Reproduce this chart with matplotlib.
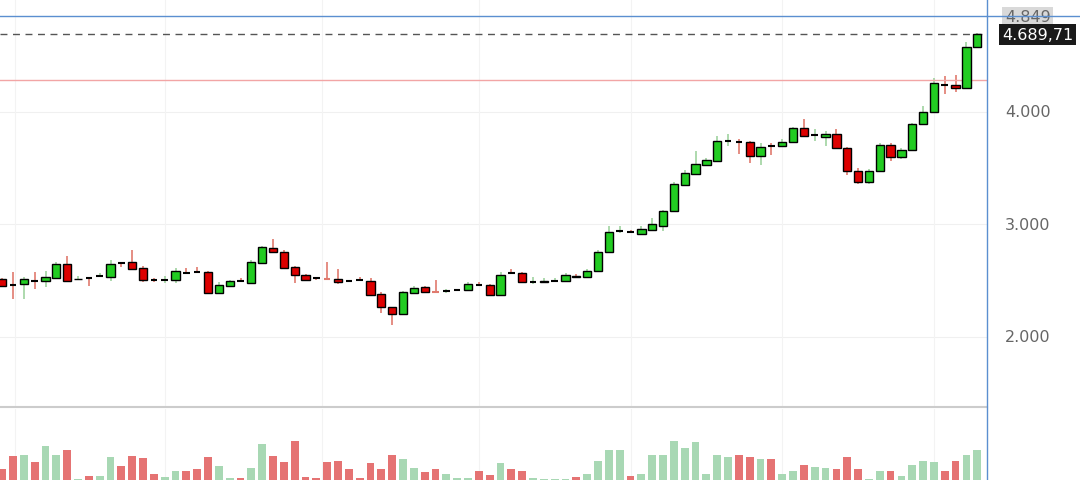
import matplotlib.pyplot as plt
from matplotlib.patches import Rectangle

# OHLC
opens = [2515, 2465, 2470, 2500, 2500, 2525, 2650, 2512, 2525, 2540, 2530, 2660, 2667, 2613, 2510, 2505, 2507, 2572, 2580, 2578,
         2390, 2455, 2500, 2480, 2658, 2790, 2755, 2622, 2551, 2525, 2515, 2515, 2500, 2505, 2498, 2382, 2266, 2204, 2390, 2440,
         2402, 2407, 2416, 2418, 2464, 2460, 2373, 2571, 2569, 2488, 2490, 2496, 2498, 2545, 2533, 2587, 2755, 2940, 2935, 2915,
         2950, 2987, 3120, 3351, 3449, 3529, 3564, 3740, 3735, 3733, 3609, 3700, 3698, 3733, 3858, 3794, 3778, 3804, 3680, 3476,
         3378, 3476, 3707, 3600, 3662, 3893, 4000, 4243, 4240, 4213, 4578]
closes = [2455, 2460, 2515, 2495, 2535, 2650, 2500, 2518, 2522, 2545, 2650, 2655, 2605, 2507, 2505, 2510, 2587, 2567, 2576, 2390,
          2460, 2500, 2496, 2667, 2800, 2755, 2613, 2551, 2507, 2522, 2513, 2489, 2496, 2502, 2373, 2266, 2204, 2400, 2436, 2395,
          2400, 2410, 2420, 2470, 2460, 2373, 2551, 2567, 2489, 2493, 2500, 2500, 2551, 2535, 2587, 2755, 2933, 2944, 2931, 2960,
          3000, 3120, 3360, 3458, 3538, 3573, 3742, 3744, 3731, 3609, 3689, 3697, 3733, 3858, 3787, 3798, 3804, 3680, 3476, 3378,
          3476, 3707, 3600, 3662, 3893, 4000, 4258, 4238, 4213, 4578, 4689.71]
highs = [2520, 2575, 2530, 2575, 2585, 2670, 2720, 2545, 2535, 2570, 2680, 2665, 2773, 2630, 2520, 2540, 2610, 2610, 2620, 2590,
         2490, 2510, 2520, 2680, 2810, 2870, 2770, 2630, 2560, 2535, 2667, 2604, 2510, 2530, 2525, 2400, 2270, 2410, 2450, 2450,
         2507, 2430, 2430, 2490, 2490, 2470, 2580, 2600, 2575, 2530, 2520, 2520, 2570, 2555, 2600, 2770, 2990, 2990, 2950, 2990,
         3060, 3130, 3380, 3480, 3650, 3590, 3790, 3800, 3760, 3740, 3720, 3720, 3760, 3870, 3938, 3850, 3830, 3850, 3690, 3500,
         3490, 3720, 3720, 3680, 3900, 4050, 4300, 4320, 4330, 4620, 4700]
lows = [2450, 2340, 2340, 2430, 2445, 2520, 2490, 2505, 2455, 2530, 2500, 2620, 2600, 2490, 2485, 2480, 2480, 2565, 2570, 2390,
        2380, 2450, 2490, 2475, 2650, 2750, 2610, 2480, 2495, 2510, 2505, 2470, 2490, 2495, 2370, 2215, 2106, 2200, 2380, 2390,
        2395, 2390, 2405, 2410, 2450, 2370, 2370, 2555, 2480, 2470, 2485, 2490, 2490, 2520, 2525, 2580, 2750, 2920, 2920, 2905,
        2940, 2940, 3110, 3340, 3440, 3520, 3560, 3700, 3630, 3550, 3530, 3620, 3690, 3725, 3780, 3740, 3700, 3790, 3440, 3360,
        3360, 3470, 3560, 3580, 3655, 3890, 3995, 4160, 4180, 4205, 4570]
volumes = [11, 24, 25, 18, 34, 25, 30, 1, 4, 4, 23, 14, 24, 22, 6, 3, 9, 9, 11, 23,
           14, 2, 2, 12, 36, 24, 18, 39, 3, 2, 18, 19, 11, 2, 17, 11, 25, 21, 12, 8,
           11, 6, 2, 2, 9, 5, 17, 11, 9, 2, 1, 1, 1, 3, 6, 19, 30, 30, 4, 6,
           25, 25, 39, 32, 38, 6, 25, 23, 25, 23, 21, 21, 6, 9, 15, 13, 12, 11, 23, 11,
           1, 9, 9, 4, 15, 19, 18, 9, 19, 25, 30]

last_price = 4689.71
high_mark = 4849
red_level = 4285
price_ticks = [2000, 3000, 4000]

fig = plt.figure(figsize=(10.8, 4.81), dpi=100)
ax = fig.add_axes([0, 1 - 408 / 481, 987 / 1080, 408 / 481])
axv = fig.add_axes([0, 0, 987 / 1080, 71 / 481])

n = len(opens)
for i in range(n):
    o, c, h, l = opens[i], closes[i], highs[i], lows[i]
    up = c >= o
    body = abs(c - o)
    wick_col = '#9fd39f' if up else '#e07a6e'
    ax.vlines(i, l, h, color=wick_col, lw=1.2, zorder=2)
    if body < 6:
        ax.hlines(o, i - 0.3, i + 0.3, color=wick_col if body < 3 else 'black', lw=1.5, zorder=3)
    else:
        ax.add_patch(Rectangle((i - 0.38, min(o, c)), 0.76, body,
                               facecolor='#22cc22' if up else '#dd0000',
                               edgecolor='black', lw=1.0, zorder=3))
    axv.bar(i, volumes[i], width=0.72, color='#a8d8b4' if up else '#e57373')

ax.set_xlim(-0.2, 90.9)
ax.set_ylim(1377, 5004)
axv.set_xlim(-0.2, 90.9)
axv.set_ylim(0, 71)

ax.axhline(high_mark, color='#5b8fd0', lw=1)
ax.axhline(last_price, color='#555555', lw=1, ls=(0, (5, 4)))
ax.axhline(red_level, color='#f2a5a5', lw=1)
for yv in price_ticks:
    ax.axhline(yv, color='#f0f0f0', lw=0.8, zorder=0)
for xv in [1.2, 15, 29.5, 44, 58, 72, 86]:
    ax.axvline(xv, color='#f3f3f3', lw=0.8, zorder=0)
    axv.axvline(xv, color='#f3f3f3', lw=0.8, zorder=0)

for a in (ax, axv):
    a.set_xticks([])
    a.set_yticks([])
    for s in a.spines.values():
        s.set_visible(False)
ax.spines['bottom'].set_visible(True)
ax.spines['bottom'].set_color('#cccccc')
ax.spines['bottom'].set_linewidth(1.5)

# right price scale
for yv in price_ticks:
    ax.text(1.018, (yv - 1377) / (5004 - 1377), f'{yv:,}'.replace(',', '.'), transform=ax.transAxes,
            ha='left', va='center', fontsize=11.5, color='#666666')
ax.text(1.018, (high_mark - 1377) / (5004 - 1377), '4.849', transform=ax.transAxes, ha='left', va='center',
        fontsize=11.5, color='#666666', bbox=dict(boxstyle='square,pad=0.15', fc='#d9d9d9', ec='none'))
ax.text(1.015, (last_price - 1377) / (5004 - 1377), '4.689,71', transform=ax.transAxes, ha='left', va='center',
        fontsize=11.5, color='white', bbox=dict(boxstyle='square,pad=0.2', fc='#1a1a1a', ec='none'))

fig.add_artist(plt.Line2D([987 / 1080, 987 / 1080], [0, 1], color='#5b8fd0', lw=1))
fig.add_artist(plt.Line2D([987 / 1080, 1], [1 - 17 / 481, 1 - 17 / 481], color='#5b8fd0', lw=1))

fig.savefig('out.png', dpi=100)
